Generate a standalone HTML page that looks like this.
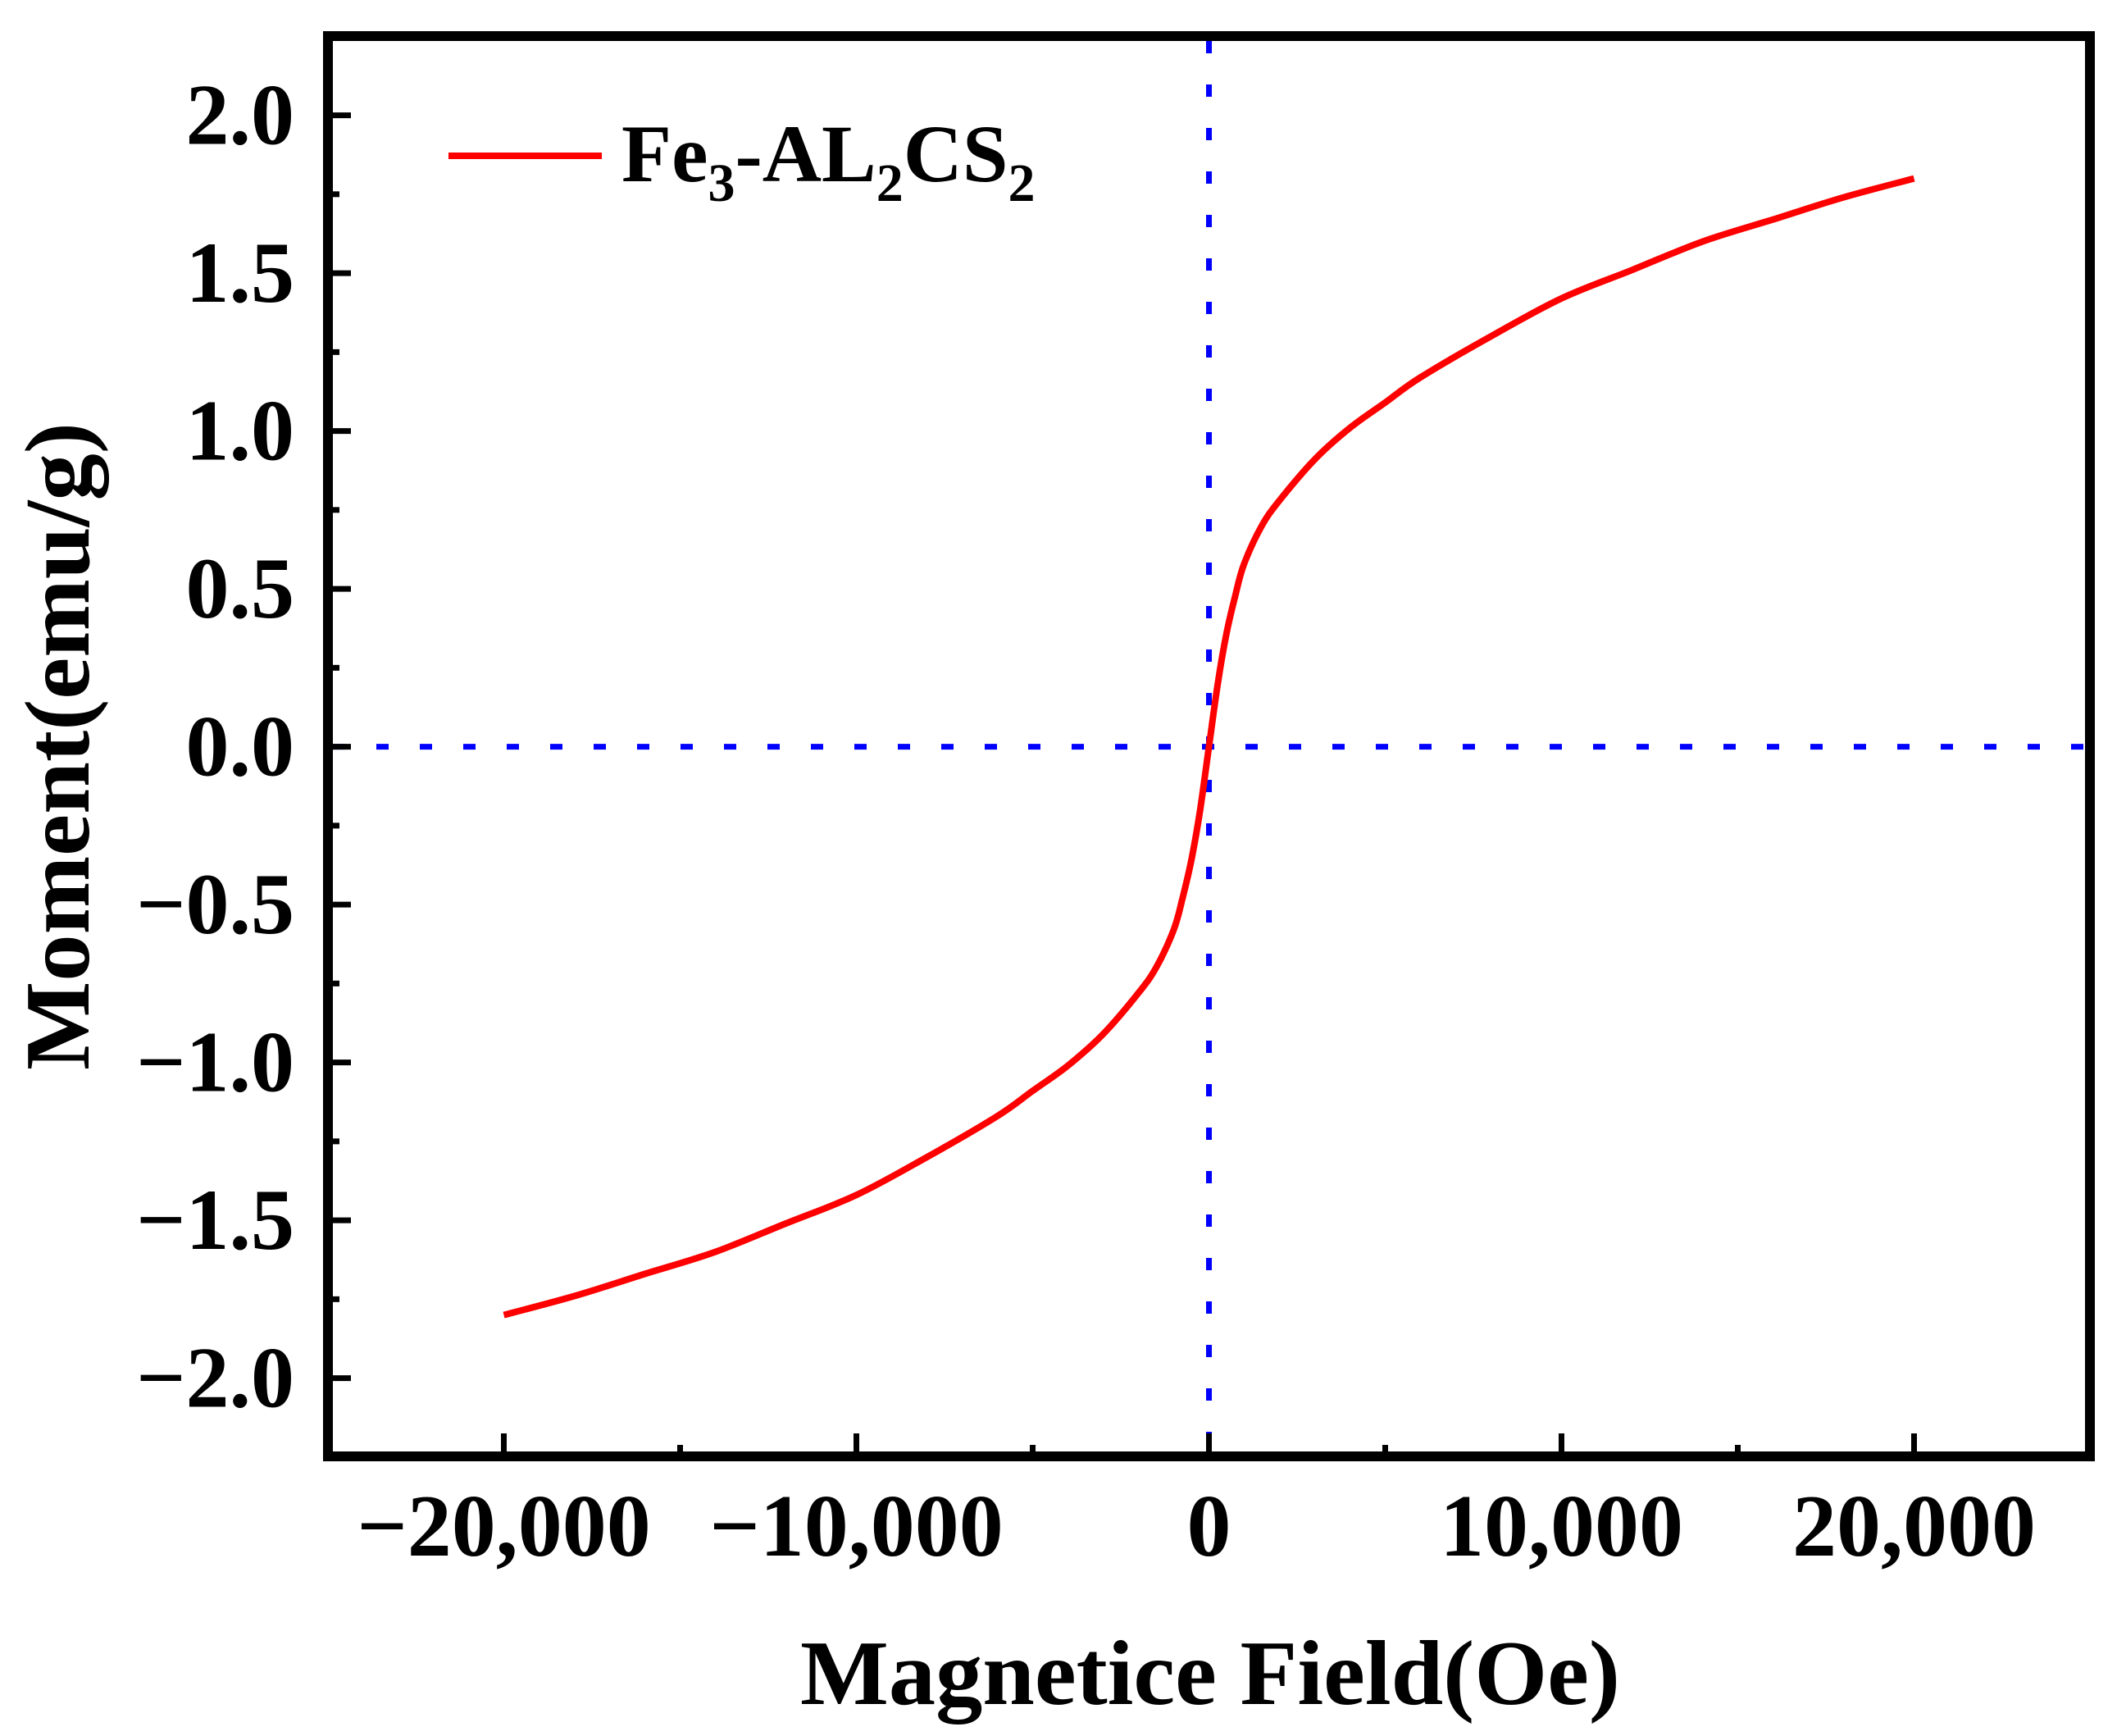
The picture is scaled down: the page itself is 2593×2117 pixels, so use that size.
<!DOCTYPE html>
<html><head><meta charset="utf-8"><style>
html,body{margin:0;padding:0;background:#fff;}
svg{display:block;}
text{font-family:"Liberation Serif",serif;font-weight:bold;fill:#000;}
</style></head>
<body>
<svg id="chart" width="2593" height="2117" viewBox="0 0 2593 2117" xmlns="http://www.w3.org/2000/svg">
<rect x="0" y="0" width="2593" height="2117" fill="#fff"/>
<g id="grid"></g>
<g id="series"></g>
<g id="axes"></g>
<g>
<line x1="547" y1="190" x2="734" y2="190" stroke="#ff0000" stroke-width="8"/>
<text x="758" y="221" font-size="100">Fe<tspan font-size="66" dy="24">3</tspan><tspan dy="-24">-AL</tspan><tspan font-size="66" dy="24">2</tspan><tspan dy="-24">CS</tspan><tspan font-size="66" dy="24">2</tspan></text>
</g>
<text x="1476" y="2078" font-size="112" text-anchor="middle" textLength="1000" lengthAdjust="spacingAndGlyphs">Magnetice Field(Oe)</text>
<text x="0" y="0" font-size="112" text-anchor="middle" textLength="790" lengthAdjust="spacingAndGlyphs" transform="translate(108,910) rotate(-90)">Moment(emu/g)</text>
</svg>
<script>
const fieldValues = [-20000,-18000,-16000,-14000,-12000,-10000,-8000,-6000,-5000,-4000,-3000,-2000,-1500,-1000,-750,-500,-250,0,250,500,750,1000,1500,2000,3000,4000,5000,6000,8000,10000,12000,14000,16000,18000,20000];
const momentValues = [-1.80,-1.74,-1.67,-1.60,-1.51,-1.42,-1.30,-1.17,-1.09,-1.01,-0.91,-0.78,-0.70,-0.58,-0.48,-0.36,-0.20,0,0.20,0.36,0.48,0.58,0.70,0.78,0.91,1.01,1.09,1.17,1.30,1.42,1.51,1.60,1.67,1.74,1.80];
const xTicks = [-20000,-10000,0,10000,20000];
const xTickLabels = ["\u221220,000","\u221210,000","0","10,000","20,000"];
const xMinor = [-15000,-5000,5000,15000];
const yTicks = [2.0,1.5,1.0,0.5,0.0,-0.5,-1.0,-1.5,-2.0];
const yTickLabels = ["2.0","1.5","1.0","0.5","0.0","\u22120.5","\u22121.0","\u22121.5","\u22122.0"];
const yMinor = [1.75,1.25,0.75,0.25,-0.25,-0.75,-1.25,-1.75];

const NS = "http://www.w3.org/2000/svg";
const L = 400, R = 2549, T = 44, B = 1776;
function xs(v){ return 1474.5 + v * 430 / 10000; }
function ys(v){ return 910.6 - v * 385; }
function mk(tag, attrs, parent){
  const e = document.createElementNS(NS, tag);
  for (const k in attrs) e.setAttribute(k, attrs[k]);
  parent.appendChild(e); return e;
}
const grid = document.getElementById('grid');
const series = document.getElementById('series');
const axes = document.getElementById('axes');

let vl = mk('line', {x1: xs(0), y1: T+6, x2: xs(0), y2: B-6, stroke:'#0000ff', 'stroke-width':7, 'stroke-dasharray':'15 38'}, grid);


let hl = mk('line', {x1: L+6, y1: ys(0), x2: R-6, y2: ys(0), stroke:'#0000ff', 'stroke-width':7, 'stroke-dasharray':'15 38'}, grid);



// smooth path (Catmull-Rom -> cubic Bezier)
const P = fieldValues.map((h,i)=>[xs(h), ys(momentValues[i])]);
let d = 'M' + P[0][0].toFixed(1) + ' ' + P[0][1].toFixed(1);
for (let i = 0; i < P.length - 1; i++) {
  const p0 = P[Math.max(i-1,0)], p1 = P[i], p2 = P[i+1], p3 = P[Math.min(i+2,P.length-1)];
  const c1 = [p1[0] + (p2[0]-p0[0])/6, p1[1] + (p2[1]-p0[1])/6];
  const c2 = [p2[0] - (p3[0]-p1[0])/6, p2[1] - (p3[1]-p1[1])/6];
  d += ' C' + c1[0].toFixed(1) + ' ' + c1[1].toFixed(1) + ' ' + c2[0].toFixed(1) + ' ' + c2[1].toFixed(1) + ' ' + p2[0].toFixed(1) + ' ' + p2[1].toFixed(1);
}
let curve = mk('path', {d: d, fill:'none', stroke:'#ff0000', 'stroke-width':8, 'stroke-linejoin':'round'}, series);



xTicks.forEach((v,i)=>{
  let t = mk('line', {x1: xs(v), y1: B, x2: xs(v), y2: B-28, stroke:'#000', 'stroke-width':7}, axes);
  
  
  let lb = mk('text', {x: xs(v), y: 1897, 'font-size':108, 'text-anchor':'middle'}, axes);
  lb.textContent = xTickLabels[i];
  
  
});
xMinor.forEach(v=>{
  let t = mk('line', {x1: xs(v), y1: B, x2: xs(v), y2: B-14, stroke:'#000', 'stroke-width':7}, axes);
  
  
});
yTicks.forEach((v,i)=>{
  let t = mk('line', {x1: L, y1: ys(v), x2: L+28, y2: ys(v), stroke:'#000', 'stroke-width':7}, axes);
  
  
  let lb = mk('text', {x: 359, y: ys(v)+35, 'font-size':106, 'text-anchor':'end'}, axes);
  lb.textContent = yTickLabels[i];
  
  
});
yMinor.forEach(v=>{
  let t = mk('line', {x1: L, y1: ys(v), x2: L+14, y2: ys(v), stroke:'#000', 'stroke-width':7}, axes);
  
  
});
let frame = mk('rect', {x: L, y: T, width: R-L, height: B-T, fill:'none', stroke:'#000', 'stroke-width':12}, axes);


</script>
</body></html>
